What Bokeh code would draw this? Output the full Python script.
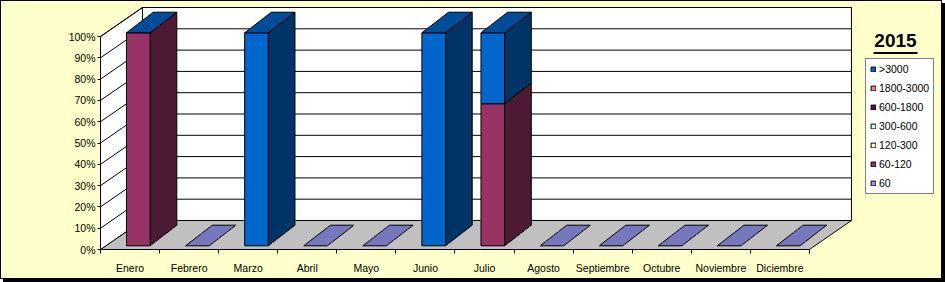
from bokeh.plotting import figure
from bokeh.models import (ColumnDataSource, FixedTicker, PrintfTickFormatter, Legend,
                          LegendItem, Label, Range1d)
from bokeh.embed import file_html
from bokeh.resources import INLINE

# ---------------- data ----------------
months = ["Enero", "Febrero", "Marzo", "Abril", "Mayo", "Junio", "Julio",
          "Agosto", "Septiembre", "Octubre", "Noviembre", "Diciembre"]
series_names = [">3000", "1800-3000", "600-1800", "300-600", "120-300", "60-120", "60"]
pct_gt3000 = [0, 0, 100, 0, 0, 100, 33.3, 0, 0, 0, 0, 0]
pct_1800_3000 = [0, 0, 0, 0, 0, 0, 0, 0, 0, 0, 0, 0]
pct_600_1800 = [0, 0, 0, 0, 0, 0, 0, 0, 0, 0, 0, 0]
pct_300_600 = [0, 0, 0, 0, 0, 0, 0, 0, 0, 0, 0, 0]
pct_120_300 = [0, 0, 0, 0, 0, 0, 0, 0, 0, 0, 0, 0]
pct_60_120 = [100, 0, 0, 0, 0, 0, 66.7, 0, 0, 0, 0, 0]
pct_60 = [0, 0, 0, 0, 0, 0, 0, 0, 0, 0, 0, 0]
y_ticks = [0, 10, 20, 30, 40, 50, 60, 70, 80, 90, 100]
title_text = "2015"

series_values = [pct_gt3000, pct_1800_3000, pct_600_1800, pct_300_600,
                 pct_120_300, pct_60_120, pct_60]

# ---------------- styles ----------------
series_colors = ["#0066CC", "#FF8080", "#660066", "#CCFFFF", "#FFFFCC", "#993366", "#9999FF"]
side_colors = ["#003366", "#804040", "#330033", "#668080", "#808066", "#4D1A33", "#4D4D80"]
top_color = "#004C99"
empty_color = "#7777BD"
bg_yellow = "#FFFFCC"
FONT = "Liberation Sans"
NAN = float("nan")

W, H = 942, 279
FL, FR, FT, FB = 100, 942, 6, 249          # frame edges in px
SLOT_PX, PCT_PX = 59.08, 2.13
n = len(months)
wall_dx, wall_dy = 42 / SLOT_PX, 29 / PCT_PX
bar_x0, bar_x1 = 26 / SLOT_PX, 49.6 / SLOT_PX
bar_base = 3.7 / PCT_PX
bar_dx, bar_dy = 26.7 / SLOT_PX, 20.6 / PCT_PX
ymax = max(y_ticks)

p = figure(width=W, height=H, output_backend="svg", toolbar_location=None, title=None,
           x_range=Range1d(0, (FR - FL) / SLOT_PX), y_range=Range1d(0, (FB - FT) / PCT_PX),
           min_border_left=FL, min_border_right=W - FR, min_border_top=FT,
           min_border_bottom=H - FB)
p.border_fill_alpha = 0
p.background_fill_alpha = 0
p.outline_line_color = None
p.xgrid.visible = False
p.ygrid.visible = False
p.styles = {"background-color": bg_yellow,
            "box-shadow": "3px 3px 0px 0px #000000, inset 1px 1px 0px 0px #000000, "
                          "inset -1px -1px 0px 0px #000000"}

# walls and floor
walls = ColumnDataSource(dict(
    xs=[[0, n, n + wall_dx, wall_dx],
        [0, wall_dx, wall_dx, 0],
        [wall_dx, n + wall_dx, n + wall_dx, wall_dx]],
    ys=[[0, 0, wall_dy, wall_dy],
        [0, wall_dy, wall_dy + ymax, ymax],
        [wall_dy, wall_dy, wall_dy + ymax, wall_dy + ymax]],
    c=["#C0C0C0", "white", "white"]))
p.patches("xs", "ys", source=walls, fill_color="c", line_color="black", line_width=1)

gx, gy = [], []
for v in y_ticks[1:]:
    gx.append([0, wall_dx, n + wall_dx])
    gy.append([v, wall_dy + v, wall_dy + v])
p.multi_line(gx, gy, line_color="black", line_width=1)

# empty months: flat patches on the floor
ex, ey = [], []
totals = [sum(s[i] for s in series_values) for i in range(n)]
for i in range(n):
    if totals[i] == 0:
        ex.append([i + bar_x0, i + bar_x1, i + bar_x1 + bar_dx, i + bar_x0 + bar_dx])
        ey.append([bar_base, bar_base, bar_base + bar_dy, bar_base + bar_dy])
p.patches(ex, ey, fill_color=empty_color, line_color="black", line_width=1)

# stacked 3D bars (bottom = last series); zero segments get no face (NaN)
order = list(range(len(series_names)))[::-1]
cum = [0.0] * n
front_r = {}
for k in order:
    fx, fy, sx, sy = [], [], [], []
    for i in range(n):
        v = series_values[k][i]
        if v > 0:
            y0 = bar_base + cum[i]
            y1 = y0 + v
            fx.append([i + bar_x0, i + bar_x1, i + bar_x1, i + bar_x0])
            fy.append([y0, y0, y1, y1])
            sx.append([i + bar_x1, i + bar_x1 + bar_dx, i + bar_x1 + bar_dx, i + bar_x1])
            sy.append([y0, y0 + bar_dy, y1 + bar_dy, y1])
            cum[i] += v
        else:
            fx.append([NAN]); fy.append([NAN])
            sx.append([NAN]); sy.append([NAN])
    p.patches(sx, sy, fill_color=side_colors[k], line_color="black", line_width=1)
    front_r[k] = p.patches(fx, fy, fill_color=series_colors[k], line_color="black",
                           line_width=1)

tx, ty = [], []
for i in range(n):
    if totals[i] > 0:
        t = bar_base + cum[i]
        tx.append([i + bar_x0, i + bar_x1, i + bar_x1 + bar_dx, i + bar_x0 + bar_dx])
        ty.append([t, t, t + bar_dy, t + bar_dy])
p.patches(tx, ty, fill_color=top_color, line_color="black", line_width=1)

# axes
ya = p.yaxis[0]
ya.ticker = FixedTicker(ticks=y_ticks)
ya.formatter = PrintfTickFormatter(format="%d%%")
ya.bounds = (0, ymax)
ya.axis_line_color = "black"
ya.major_tick_out = 3
ya.major_tick_in = 0
ya.minor_tick_out = 0
ya.major_label_standoff = 2
ya.major_label_text_font = FONT
ya.major_label_text_font_size = "10.5px"
ya.major_label_text_color = "black"

xa = p.xaxis[0]
xa.ticker = FixedTicker(ticks=[i + 0.5 for i in range(n)], minor_ticks=list(range(n + 1)))
xa.major_label_overrides = {i + 0.5: m for i, m in enumerate(months)}
xa.bounds = (0, n)
xa.axis_line_color = "black"
xa.major_tick_out = 0
xa.major_tick_in = 0
xa.minor_tick_out = 4
xa.minor_tick_in = 0
xa.minor_tick_line_color = "black"
xa.major_label_standoff = 8
xa.major_label_text_font = FONT
xa.major_label_text_font_size = "10.5px"
xa.major_label_text_color = "black"

# legend
items = [LegendItem(label=series_names[k], renderers=[front_r[k]], index=0)
         for k in range(len(series_names))]
legend = Legend(items=items, location=(865 - FL, FB - 194), glyph_width=6, glyph_height=6,
                label_standoff=3, padding=4, spacing=7, label_height=12, margin=0,
                label_text_font=FONT, label_text_font_size="10.5px", label_text_color="black",
                border_line_color="black", border_line_width=1,
                background_fill_color="white", background_fill_alpha=1)
p.add_layout(legend)

# title with underline
p.add_layout(Label(x=895 - FL, y=FB - 33, x_units="screen", y_units="screen", text=title_text,
                   text_font=FONT, text_font_style="bold", text_font_size="19px",
                   text_align="center", text_baseline="top", text_color="black"))
ul_y = (FB - 52.5) / PCT_PX
p.segment(x0=[(873 - FL) / SLOT_PX], y0=[ul_y], x1=[(917 - FL) / SLOT_PX], y1=[ul_y],
          line_color="black", line_width=2)

open("out.html", "w").write(file_html(p, INLINE))
